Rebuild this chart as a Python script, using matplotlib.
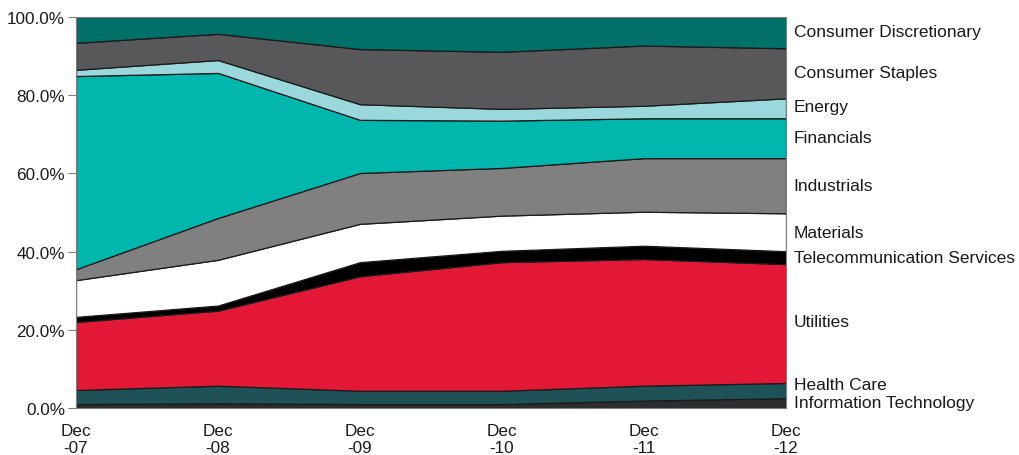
import matplotlib.pyplot as plt
import numpy as np
from matplotlib.ticker import FuncFormatter

plt.rcParams['font.family'] = ['Liberation Sans', 'DejaVu Sans']

periods = ["Dec\n-07", "Dec\n-08", "Dec\n-09", "Dec\n-10", "Dec\n-11", "Dec\n-12"]

# sector weights in %, bottom of the stack first
info_tech = [1.0, 1.2, 1.0, 1.0, 1.9, 2.5]
health_care = [3.6, 4.5, 3.4, 3.4, 3.8, 3.9]
utilities = [17.4, 19.2, 29.3, 32.9, 32.4, 30.4]
telecom = [1.3, 1.3, 3.6, 2.9, 3.4, 3.3]
materials = [9.4, 11.7, 9.8, 9.0, 8.7, 9.7]
industrials = [2.8, 10.7, 13.0, 12.2, 13.7, 14.1]
financials = [49.4, 37.1, 13.6, 12.1, 10.2, 10.2]
energy = [1.6, 3.3, 4.0, 3.0, 3.2, 5.1]
staples = [6.9, 6.7, 14.1, 14.6, 15.4, 12.8]
discretionary = [6.6, 4.3, 8.2, 8.9, 7.3, 8.0]

sectors = ["Information Technology", "Health Care", "Utilities",
           "Telecommunication Services", "Materials", "Industrials",
           "Financials", "Energy", "Consumer Staples", "Consumer Discretionary"]
series = [info_tech, health_care, utilities, telecom, materials,
          industrials, financials, energy, staples, discretionary]
colors = ["#2b2d2e", "#1f5256", "#e31837", "#000000", "#ffffff",
          "#808080", "#00b6ad", "#9bd8dc", "#58585a", "#007068"]

# where the sector names sit on the right, in data units
label_y = [1.5, 6.0, 22.0, 38.6, 45.0, 57.0, 69.3, 77.0, 85.9, 96.2]

fig = plt.figure(figsize=(10.2, 4.56), dpi=100)
ax = fig.add_axes([0.0745, 0.1031, 0.6961, 0.8574])

x = np.arange(len(periods))
ax.stackplot(x, *series, colors=colors, edgecolor="#1a1a1a", linewidth=0.9)

ax.set_xlim(0, len(periods) - 1)
ax.set_ylim(0, 100)
ax.set_yticks(np.arange(0, 101, 20))
ax.yaxis.set_major_formatter(FuncFormatter(lambda v, p: f"{v:.1f}%"))
ax.set_xticks(x)
ax.set_xticklabels(periods, linespacing=1.15)
ax.tick_params(axis="y", length=6, width=0.8, color="#808080", labelsize=12.3,
               labelcolor="#1a1a1a", pad=2)
ax.tick_params(axis="x", length=0, labelsize=12.3, labelcolor="#1a1a1a", pad=11)

for side in ["left", "right", "top", "bottom"]:
    ax.spines[side].set_color("#808080")
    ax.spines[side].set_linewidth(0.8)

for name, y in zip(sectors, label_y):
    ax.text(1.011, y, name, transform=ax.get_yaxis_transform(),
            ha="left", va="center", fontsize=12.5, color="#1a1a1a")

fig.savefig("out.png", dpi=100)
